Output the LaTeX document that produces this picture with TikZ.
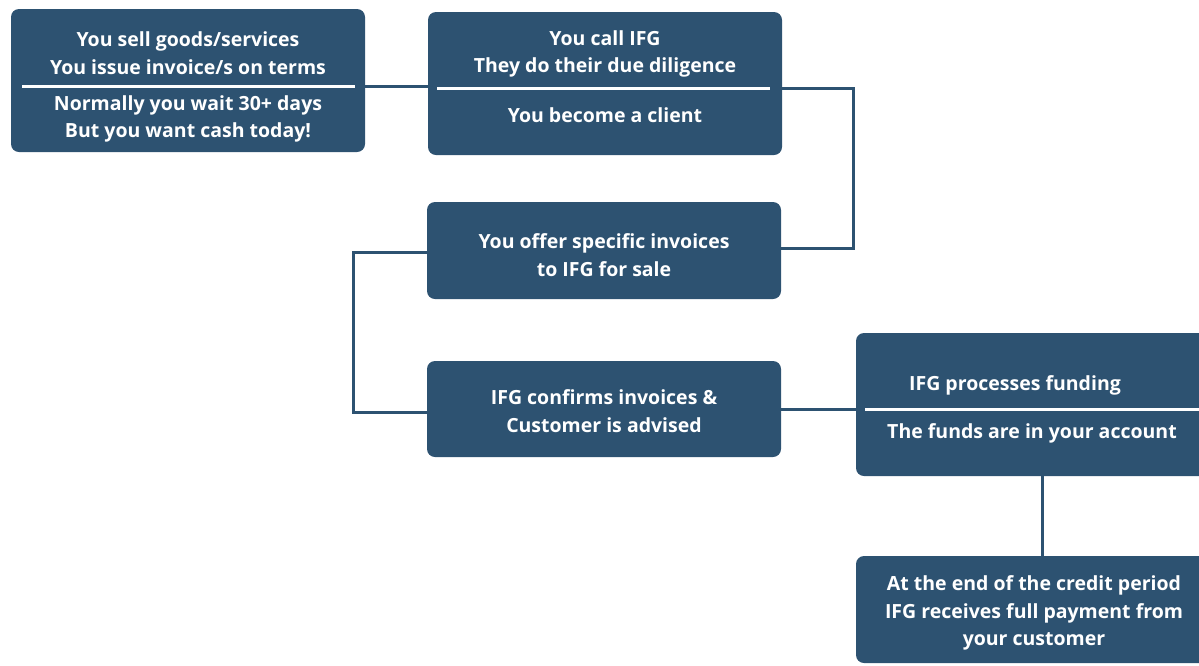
\documentclass[tikz,border=0pt]{standalone}
\usepackage{fontspec}
\setmainfont{Open Sans}
\definecolor{ifg}{HTML}{2D5271}
\begin{document}
\begin{tikzpicture}[x=1pt,y=-1pt,
  box/.style={fill=ifg, rounded corners=8pt, draw=none, inner sep=0pt, minimum width=354pt},
  link/.style={draw=ifg, line width=3pt},
  txt/.style={text=white, font=\bfseries\fontsize{19.5}{27.5}\selectfont, align=center, inner sep=0pt},
  divider/.style={draw=white, line width=3pt}]
\useasboundingbox (0,0) rectangle (1199,665);
\clip (0,0) rectangle (1199,665);
% boxes
\node[box, minimum height=143pt] (b1) at (188,80.5) {};
\node[box, minimum height=143pt] (b2) at (605,83.5) {};
\node[box, minimum height=97pt] (b3) at (604,250.5) {};
\node[box, minimum height=96pt] (b4) at (604,409) {};
\node[box, minimum height=143pt] (b5) at (1033,404.5) {};
\node[box, minimum height=107pt] (b6) at (1033,609.5) {};
% dividers
\coordinate (d1a) at (22,86);  \coordinate (d1b) at (355,86);
\coordinate (d2a) at (437,88); \coordinate (d2b) at (770,88);
\coordinate (d5a) at (865,409); \coordinate (d5b) at (1210,409);
\draw[divider] (d1a) -- (d1b);
\draw[divider] (d2a) -- (d2b);
\draw[divider] (d5a) -- (d5b);
% texts
\node[txt] (t1a) at (188,53) {You sell goods/services\\You issue invoice/s on terms};
\node[txt] (t1b) at (188,119) {Normally you wait 30+ days\\But you want cash today!};
\node[txt] (t2a) at (605,54) {You call IFG\\They do their due diligence};
\node[txt] (t2b) at (605,115) {You become a client};
\node[txt] (t3) at (604,255) {You offer specific invoices\\to IFG for sale};
\node[txt] (t4) at (604,411) {IFG confirms invoices \&\\Customer is advised};
\node[txt] (t5a) at (1015,385) {IFG processes funding};
\node[txt] (t5b) at (1032,433) {The funds are in your account};
\node[txt] (t6) at (1034,613) {At the end of the credit period\\IFG receives full payment from\\your customer};
% connectors
\coordinate (c1) at (853,88);
\coordinate (c2) at (853,248);
\coordinate (c3) at (353,252);
\coordinate (c4) at (353,412);
\coordinate (c5) at (1042,0);
\draw[link] (b1.east |- d1b) -- (b2.west |- d1b);
\draw[link] (b2.east |- c1) -- (c1) -- (c2) -- (b3.east |- c2);
\draw[link] (b3.west |- c3) -- (c3) -- (c4) -- (b4.west |- c4);
\draw[link] (b4.east) -- (b5.west |- b4.east);
\draw[link] (b5.south -| c5) -- (b6.north -| c5);
\end{tikzpicture}
\end{document}
